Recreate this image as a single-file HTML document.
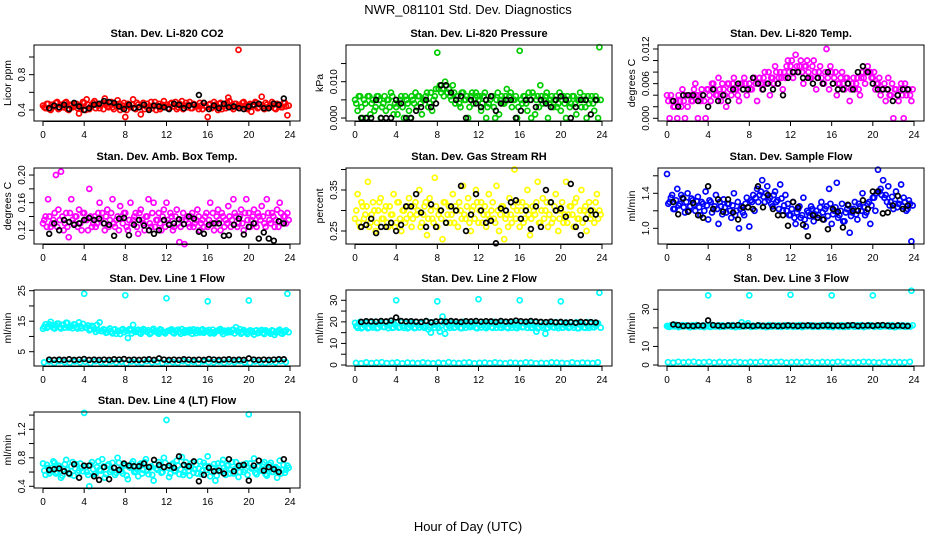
<!DOCTYPE html>
<html><head><meta charset="utf-8">
<style>
html,body{margin:0;padding:0;background:#fff;}
svg{display:block;font-family:"Liberation Sans",Arial,sans-serif;}
</style></head>
<body>
<svg id="chart" width="936" height="540" viewBox="0 0 936 540" xmlns="http://www.w3.org/2000/svg">
<rect width="936" height="540" fill="#fff"/>
<text x="468" y="14" font-size="13" text-anchor="middle">NWR_081101  Std. Dev. Diagnostics</text>
<text x="468" y="531" font-size="13" text-anchor="middle">Hour of Day (UTC)</text>
</svg>
<script>
// ---- data ----
const xTicks = [0,4,8,12,16,20,24];
const colorStep = 0.25;     // hours between colored samples
const color2Start = 0.125;
const blackStart = 0.6, blackStep = 0.485;
const lowStart = 0.1, lowStep = 0.5;

const co2Color = [0.45,0.42,0.47,0.40,0.44,0.48,0.41,0.46,0.43,0.49,0.40,0.45,
0.44,0.47,0.36,0.43,0.48,0.52,0.41,0.45,0.50,0.46,0.42,0.47,
0.53,0.44,0.48,0.43,0.46,0.51,0.40,0.45,0.32,0.47,0.43,0.52,
0.41,0.46,0.35,0.48,0.44,0.42,0.49,0.45,0.40,0.47,0.43,0.50,
0.46,0.42,0.48,0.44,0.41,0.47,0.50,0.45,0.43,0.49,0.42,0.46,
0.44,0.48,0.41,0.45,0.32,0.47,0.43,0.46,0.40,0.48,0.44,0.42,
0.54,0.45,0.41,0.47,1.08,0.44,0.49,0.42,0.46,0.38,0.45,0.48,
0.43,0.55,0.41,0.46,0.44,0.49,0.42,0.47,0.45,0.43,0.48,0.34];
const co2Color2 = [0.43,0.47,0.41,0.46,0.44,0.49,0.42,0.45,0.48,0.41,0.46,0.43,
0.47,0.42,0.45,0.49,0.40,0.46,0.44,0.48,0.42,0.45,0.47,0.41,
0.46,0.43,0.49,0.41,0.45,0.47,0.43,0.48,0.40,0.44,0.46,0.42,
0.48,0.43,0.46,0.41,0.47,0.44,0.42,0.49,0.45,0.41,0.46,0.44,
0.42,0.47,0.44,0.49,0.43,0.45,0.41,0.48,0.46,0.42,0.47,0.44,
0.41,0.45,0.48,0.43,0.46,0.42,0.49,0.44,0.47,0.41,0.45,0.48,
0.50,0.43,0.47,0.44,0.42,0.48,0.45,0.41,0.47,0.44,0.49,0.42,
0.46,0.44,0.48,0.42,0.45,0.47,0.41,0.46,0.43,0.48,0.44,0.45];
const co2Black = [0.42,0.45,0.43,0.46,0.41,0.48,0.44,0.40,0.42,0.46,0.47,0.50,0.49,0.48,0.44,0.41,0.46,0.42,0.43,0.46,0.40,0.45,0.44,0.43,0.41,0.47,0.46,0.42,0.45,0.46,0.57,0.48,0.41,0.45,0.42,0.47,0.43,0.44,0.42,0.41,0.44,0.46,0.47,0.42,0.42,0.47,0.46,0.53];

const presColor = [0.005,0.002,0.006,0.000,0.004,0.006,0.001,0.005,0.003,0.006,0.000,0.004,
0.002,0.005,0.007,0.001,0.003,0.004,0.006,0.000,0.005,0.002,0.006,0.004,
0.003,0.006,0.001,0.005,0.007,0.004,0.002,0.006,0.018,0.009,0.008,0.010,
0.007,0.006,0.009,0.004,0.006,0.003,0.007,0.005,0.000,0.006,0.004,0.007,
0.005,0.002,0.006,0.000,0.004,0.006,0.003,0.005,0.001,0.006,0.004,0.008,
0.006,0.003,0.005,0.000,0.0185,0.004,0.006,0.002,0.005,0.007,0.001,0.006,
0.009,0.004,0.006,0.000,0.005,0.003,0.006,0.004,0.002,0.006,0.000,0.005,
0.004,0.006,0.001,0.005,0.003,0.006,0.000,0.004,0.006,0.002,0.005,0.0195];
const presColor2 = [0.004,0.006,0.003,0.005,0.000,0.006,0.004,0.002,0.006,0.005,0.003,0.006,
0.005,0.003,0.006,0.004,0.001,0.005,0.003,0.006,0.004,0.000,0.005,0.007,
0.006,0.004,0.005,0.006,0.003,0.007,0.005,0.008,0.008,0.007,0.006,0.009,
0.008,0.005,0.007,0.006,0.004,0.007,0.005,0.006,0.003,0.007,0.005,0.006,
0.006,0.004,0.007,0.003,0.005,0.006,0.000,0.007,0.005,0.004,0.006,0.005,
0.007,0.005,0.006,0.003,0.005,0.006,0.004,0.007,0.000,0.006,0.005,0.003,
0.006,0.005,0.007,0.004,0.006,0.005,0.003,0.007,0.005,0.004,0.006,0.003,
0.006,0.004,0.005,0.007,0.005,0.003,0.006,0.005,0.004,0.006,0.000,0.005];
const presBlack = [0.000,0.000,0.000,0.005,0.000,0.000,0.000,0.005,0.004,0.000,0.000,0.002,0.003,0.005,0.003,0.004,0.009,0.009,0.007,0.005,0.006,0.000,0.005,0.004,0.003,0.005,0.006,0.002,0.004,0.005,0.005,0.000,0.002,0.005,0.005,0.003,0.005,0.004,0.003,0.005,0.006,0.005,0.000,0.003,0.005,0.005,0.001,0.005];

const tempColor = [0.004,0.000,0.003,0.002,0.000,0.003,0.005,0.000,0.002,0.004,0.003,0.006,
0.000,0.003,0.004,0.000,0.005,0.003,0.006,0.004,0.007,0.003,0.005,0.002,
0.006,0.004,0.007,0.005,0.003,0.006,0.007,0.004,0.006,0.005,0.007,0.003,
0.007,0.005,0.008,0.006,0.004,0.007,0.009,0.006,0.008,0.005,0.007,0.010,
0.009,0.007,0.011,0.008,0.010,0.006,0.009,0.008,0.007,0.010,0.005,0.008,
0.007,0.006,0.012,0.005,0.008,0.007,0.004,0.006,0.008,0.005,0.007,0.003,
0.006,0.005,0.007,0.004,0.008,0.006,0.009,0.008,0.007,0.005,0.006,0.004,
0.005,0.003,0.007,0.004,0.000,0.005,0.003,0.006,0.000,0.004,0.005,0.003];
const tempColor2 = [0.003,0.004,0.002,0.003,0.004,0.002,0.003,0.004,0.004,0.003,0.005,0.004,
0.004,0.005,0.003,0.005,0.004,0.006,0.005,0.004,0.005,0.006,0.004,0.006,
0.005,0.006,0.005,0.004,0.006,0.005,0.006,0.005,0.005,0.007,0.006,0.006,
0.006,0.007,0.006,0.008,0.007,0.006,0.008,0.007,0.007,0.008,0.009,0.008,
0.010,0.008,0.009,0.009,0.008,0.009,0.010,0.007,0.009,0.008,0.007,0.009,
0.006,0.008,0.007,0.009,0.006,0.008,0.006,0.007,0.006,0.007,0.006,0.005,
0.007,0.006,0.005,0.007,0.007,0.008,0.008,0.007,0.008,0.006,0.007,0.005,
0.006,0.005,0.004,0.006,0.005,0.004,0.005,0.004,0.006,0.005,0.004,0.005];
const tempBlack = [0.003,0.002,0.004,0.004,0.004,0.003,0.004,0.002,0.005,0.003,0.004,0.003,0.005,0.006,0.005,0.005,0.007,0.006,0.005,0.006,0.005,0.006,0.004,0.007,0.008,0.008,0.007,0.007,0.006,0.007,0.006,0.008,0.006,0.005,0.005,0.006,0.005,0.008,0.009,0.008,0.006,0.005,0.005,0.005,0.003,0.004,0.005,0.005];

const ambColor = [0.130,0.140,0.165,0.125,0.135,0.200,0.150,0.205,0.120,0.145,0.110,0.165,
0.130,0.140,0.150,0.120,0.145,0.135,0.180,0.125,0.140,0.130,0.160,0.145,
0.120,0.150,0.135,0.165,0.125,0.140,0.155,0.130,0.145,0.120,0.160,0.135,
0.145,0.115,0.150,0.130,0.140,0.165,0.125,0.160,0.135,0.145,0.120,0.150,
0.160,0.130,0.140,0.125,0.150,0.103,0.135,0.100,0.140,0.125,0.145,0.130,
0.150,0.120,0.135,0.140,0.125,0.160,0.145,0.130,0.150,0.120,0.140,0.135,
0.155,0.125,0.165,0.140,0.130,0.150,0.120,0.165,0.145,0.135,0.150,0.125,
0.140,0.155,0.130,0.165,0.135,0.145,0.125,0.150,0.160,0.130,0.140,0.145];
const ambColor2 = [0.135,0.125,0.140,0.130,0.145,0.125,0.135,0.140,0.130,0.125,0.145,0.135,
0.140,0.125,0.130,0.145,0.135,0.120,0.140,0.130,0.125,0.145,0.135,0.130,
0.140,0.125,0.145,0.130,0.135,0.120,0.140,0.145,0.125,0.135,0.130,0.140,
0.125,0.145,0.135,0.120,0.140,0.130,0.145,0.125,0.135,0.130,0.140,0.125,
0.135,0.145,0.120,0.140,0.130,0.125,0.145,0.135,0.130,0.140,0.125,0.135,
0.140,0.130,0.125,0.145,0.135,0.130,0.120,0.140,0.135,0.145,0.125,0.130,
0.140,0.135,0.145,0.125,0.140,0.130,0.145,0.135,0.125,0.140,0.130,0.145,
0.135,0.140,0.125,0.145,0.130,0.140,0.135,0.125,0.145,0.140,0.130,0.135];
const ambBlack = [0.115,0.130,0.120,0.135,0.132,0.128,0.130,0.135,0.138,0.135,0.137,0.130,0.128,0.112,0.137,0.138,0.113,0.128,0.135,0.127,0.120,0.115,0.120,0.135,0.128,0.130,0.136,0.129,0.140,0.137,0.118,0.115,0.128,0.130,0.130,0.112,0.113,0.128,0.137,0.114,0.125,0.130,0.108,0.117,0.108,0.105,0.133,0.130];

const rhColor = [0.28,0.34,0.26,0.31,0.29,0.37,0.27,0.32,0.25,0.30,0.33,0.28,
0.31,0.26,0.29,0.34,0.27,0.32,0.25,0.30,0.28,0.33,0.26,0.31,
0.29,0.35,0.27,0.31,0.24,0.33,0.28,0.38,0.26,0.30,0.23,0.32,
0.29,0.27,0.34,0.31,0.26,0.30,0.36,0.28,0.33,0.25,0.31,0.35,
0.27,0.32,0.29,0.26,0.34,0.30,0.28,0.36,0.25,0.31,0.23,0.29,
0.33,0.27,0.40,0.30,0.26,0.32,0.28,0.35,0.24,0.31,0.29,0.37,
0.27,0.33,0.30,0.26,0.32,0.28,0.34,0.25,0.30,0.27,0.37,0.29,
0.31,0.26,0.33,0.28,0.35,0.30,0.25,0.32,0.29,0.27,0.34,0.30];
const rhColor2 = [0.30,0.27,0.32,0.28,0.31,0.26,0.29,0.30,0.27,0.32,0.28,0.30,
0.27,0.31,0.29,0.26,0.32,0.28,0.30,0.27,0.31,0.29,0.28,0.32,
0.30,0.26,0.29,0.32,0.28,0.30,0.27,0.31,0.29,0.28,0.32,0.27,
0.31,0.29,0.27,0.30,0.32,0.28,0.29,0.31,0.27,0.30,0.28,0.32,
0.30,0.27,0.31,0.29,0.28,0.32,0.27,0.30,0.29,0.31,0.28,0.26,
0.29,0.31,0.28,0.32,0.30,0.27,0.31,0.29,0.28,0.30,0.32,0.27,
0.30,0.28,0.32,0.29,0.27,0.31,0.30,0.28,0.32,0.29,0.27,0.31,
0.29,0.32,0.28,0.30,0.27,0.31,0.29,0.28,0.30,0.32,0.28,0.29];
const rhBlack = [0.26,0.265,0.28,0.245,0.26,0.26,0.27,0.25,0.265,0.31,0.31,0.34,0.295,0.26,0.315,0.26,0.30,0.27,0.31,0.30,0.36,0.25,0.29,0.34,0.30,0.27,0.275,0.22,0.305,0.30,0.32,0.325,0.28,0.30,0.255,0.31,0.26,0.35,0.32,0.30,0.305,0.285,0.365,0.26,0.24,0.28,0.30,0.29];

const sampColor = [1.62,1.30,1.38,1.22,1.45,1.28,1.35,1.18,1.40,1.25,1.32,1.20,
1.36,1.15,1.28,1.42,1.10,1.30,1.22,1.38,1.05,1.25,1.33,1.18,
1.28,1.12,1.40,1.20,1.00,1.25,1.15,1.35,1.02,1.30,1.20,1.45,
1.38,1.55,1.30,1.48,1.35,1.25,1.42,1.32,1.50,1.20,1.38,1.28,
1.15,1.30,1.05,1.22,1.12,1.35,1.02,1.18,1.25,1.08,1.20,1.15,
1.30,1.10,1.25,1.45,1.05,1.20,1.52,1.15,1.28,1.08,1.22,0.95,
1.18,1.30,1.10,1.25,1.40,1.15,1.28,1.05,1.35,1.20,1.67,1.45,
1.55,1.38,1.48,1.30,1.22,1.42,1.28,1.50,1.35,1.20,1.32,0.85];
const sampColor2 = [1.28,1.35,1.22,1.32,1.26,1.38,1.24,1.30,1.20,1.34,1.27,1.31,
1.24,1.30,1.20,1.26,1.32,1.18,1.25,1.22,1.30,1.16,1.24,1.28,
1.20,1.26,1.15,1.30,1.22,1.18,1.28,1.24,1.32,1.38,1.35,1.30,
1.42,1.36,1.40,1.32,1.28,1.38,1.30,1.22,1.34,1.26,1.20,1.15,
1.22,1.12,1.18,1.25,1.15,1.10,1.20,1.14,1.22,1.16,1.12,1.24,
1.18,1.22,1.14,1.28,1.16,1.24,1.12,1.20,1.08,1.18,1.26,1.14,
1.22,1.16,1.28,1.20,1.24,1.18,1.30,1.26,1.35,1.40,1.42,1.38,
1.35,1.30,1.26,1.36,1.28,1.24,1.32,1.25,1.30,1.22,1.28,1.26];
const sampBlack = [1.30,1.16,1.34,1.19,1.29,1.15,1.12,1.48,1.22,1.33,1.19,1.33,1.18,1.10,1.24,1.24,1.22,1.48,1.24,1.38,1.22,1.15,1.15,1.03,1.30,1.24,1.04,0.91,1.15,1.12,1.10,0.99,1.22,1.19,1.01,1.27,1.20,1.20,1.32,1.22,1.42,1.42,1.17,1.18,1.26,1.37,1.22,1.26];

const l1Color = [12.5,14.0,13.2,14.8,12.8,13.6,14.2,12.6,13.8,14.5,12.9,13.4,
14.0,13.1,14.6,12.7,24.0,13.0,12.0,13.5,12.4,13.8,14.6,11.8,
12.2,11.4,12.6,11.0,12.3,11.8,10.8,12.4,23.5,9.5,12.0,13.8,
11.5,12.2,10.9,12.4,11.7,12.0,11.2,12.5,11.6,10.9,12.1,11.4,
22.5,11.9,12.3,11.0,12.0,11.5,12.4,11.2,11.8,12.2,10.9,11.7,
12.1,11.3,12.3,11.6,21.5,11.0,12.2,11.5,11.9,12.4,10.8,11.7,
12.0,11.4,12.2,13.0,11.6,10.9,12.1,11.3,21.8,11.8,10.6,12.0,
11.2,12.1,10.8,11.7,11.3,12.0,10.5,11.6,12.2,10.9,11.5,24.0];
const l1Color2 = [13.2,12.8,14.0,13.5,12.6,14.2,13.0,13.8,12.9,14.4,13.3,12.7,
13.9,12.6,13.4,14.1,12.9,13.6,12.4,13.1,11.5,12.0,11.8,12.3,
11.2,12.0,11.6,12.2,10.9,11.8,12.1,11.4,11.9,12.3,11.0,11.7,
12.0,11.3,11.8,12.2,11.5,10.8,12.1,11.7,11.2,12.3,11.6,11.0,
11.8,12.1,11.3,11.9,12.2,10.9,11.6,12.0,11.4,11.8,12.3,11.1,
11.7,12.0,11.2,11.9,12.1,11.4,11.0,11.8,12.2,11.5,11.9,11.3,
11.6,12.1,11.0,11.8,12.4,11.3,11.7,10.8,12.0,11.4,11.9,11.1,
11.7,11.2,12.0,11.5,10.9,11.8,11.3,11.9,11.1,11.6,12.0,11.4];
const l1Low = [1.5,1.8,1.3,1.9,1.6,1.4,1.8,1.5,1.7,1.3,1.9,1.6,1.4,1.8,1.5,1.7,1.2,1.8,1.6,1.4,1.9,1.5,1.7,1.3,1.8,1.6,1.4,1.9,1.5,1.7,1.3,1.8,1.6,1.5,1.8,1.4,1.7,1.6,1.9,1.5,1.3,1.8,1.6,1.4,1.7,1.5,1.9,1.6];
const l1Black = [2.4,2.3,2.4,2.3,2.5,2.3,2.4,2.6,2.3,2.4,2.3,2.4,2.3,2.5,2.4,2.6,2.3,2.4,2.3,2.4,2.5,2.3,2.8,2.4,2.3,2.4,2.3,2.5,2.4,2.3,2.4,2.3,2.6,2.4,2.3,2.4,2.5,2.3,2.4,2.3,2.8,2.4,2.3,2.4,2.3,2.4,2.5,2.5];

const l2Color = [19.5,17.2,20.0,17.5,19.8,17.0,19.6,17.4,20.1,17.3,19.7,17.6,
19.9,17.1,19.5,17.4,30.0,17.3,19.8,17.2,20.0,17.5,19.6,17.1,
19.8,17.4,19.5,17.2,20.1,17.6,19.7,17.3,29.5,15.5,22.5,14.5,
19.6,17.2,19.9,17.5,19.4,17.1,20.0,17.3,19.7,17.6,19.5,17.2,
30.5,17.4,19.8,17.1,19.6,17.5,20.0,17.3,19.7,17.2,19.9,17.4,
19.5,17.3,19.8,17.1,30.0,17.5,19.6,17.2,19.9,17.4,19.7,17.0,
19.8,17.3,14.5,17.2,19.6,17.5,19.9,17.1,29.5,17.4,19.7,17.2,
19.5,17.3,19.8,17.0,19.6,17.4,19.9,17.2,19.7,17.5,19.4,33.5];
const l2Color2 = [18.0,19.2,17.0,18.6,19.5,17.4,18.2,19.0,17.1,18.8,19.4,17.6,
18.3,19.1,17.2,18.7,19.6,17.5,18.1,19.3,17.0,18.5,19.0,17.3,
18.4,19.2,17.6,18.0,16.5,15.0,18.6,19.1,17.2,18.3,19.5,17.4,
18.1,19.0,17.3,18.7,19.4,17.1,18.5,19.2,17.6,18.2,19.6,17.0,
18.4,19.1,17.5,18.0,19.3,17.2,18.6,19.0,17.4,18.3,19.5,17.1,
18.5,19.2,17.3,18.1,19.4,17.6,18.7,19.0,17.2,18.4,15.5,17.5,
18.2,19.3,17.1,18.6,19.1,17.4,18.0,19.5,17.3,18.5,19.0,17.6,
18.3,19.2,17.0,18.7,19.4,17.2,18.1,19.1,17.5,18.4,19.3,17.3];
const l2Low = [1.0,0.8,1.2,0.9,1.1,1.3,0.9,1.0,1.2,0.8,1.1,1.0,0.9,1.2,1.0,0.8,1.1,0.9,1.3,1.0,0.9,1.1,1.2,0.8,1.0,1.1,0.9,1.2,1.0,0.8,1.1,1.0,0.9,1.2,1.1,0.8,1.0,0.9,1.2,1.1,1.0,0.8,1.2,0.9,1.1,1.0,0.9,1.2];
const l2Black = [20.0,20.3,20.2,20.1,20.4,20.2,20.6,22.0,20.4,20.2,20.3,20.1,20.0,20.4,19.8,20.2,20.3,20.1,20.4,20.2,20.0,20.3,20.2,20.4,20.1,20.3,20.2,20.0,20.4,20.1,20.2,20.6,20.3,20.1,20.4,20.2,20.0,19.9,20.1,19.8,20.0,19.7,19.9,19.6,20.0,19.8,19.9,19.7];

const l3Color = [21.0,20.5,21.4,20.8,21.2,20.6,21.5,20.9,21.1,20.4,21.3,20.7,
21.0,20.6,21.4,20.9,37.5,20.5,21.2,20.8,21.3,20.6,21.0,20.9,
21.4,20.7,21.1,20.5,21.3,23.0,20.8,21.2,37.5,20.6,21.0,20.9,
21.3,20.7,21.1,20.5,21.4,20.8,21.2,20.6,21.0,20.9,21.3,20.7,
37.8,20.5,21.2,20.8,21.4,20.6,21.1,20.9,21.3,20.7,21.0,20.5,
21.2,20.8,21.4,20.6,37.5,20.9,21.1,20.7,21.3,20.5,21.2,20.8,
21.0,20.6,21.4,20.9,21.1,20.7,21.3,21.5,37.5,20.8,21.2,20.6,
21.0,20.9,21.3,20.7,21.1,20.5,21.4,20.8,21.2,20.6,21.0,40.0];
const l3Color2 = [20.6,21.3,20.9,21.6,20.4,21.1,20.8,21.4,20.5,21.2,20.7,21.5,
20.9,21.0,20.4,21.3,20.6,21.5,20.8,21.1,20.5,21.4,20.7,21.2,
20.9,21.5,20.4,21.0,20.6,21.3,20.8,22.5,20.5,21.2,20.7,21.4,
20.9,21.1,20.4,21.5,20.6,21.0,20.8,21.3,20.5,21.2,20.7,21.4,
20.9,21.1,20.6,21.5,20.4,21.0,20.8,21.3,20.5,21.2,20.7,21.4,
20.9,21.1,20.6,21.5,20.4,21.0,20.8,21.3,20.5,21.2,20.7,21.4,
20.9,21.1,20.6,21.5,20.4,21.0,20.8,21.3,20.5,21.2,20.7,21.4,
20.9,21.1,20.6,21.5,20.4,21.0,20.8,21.3,20.5,21.2,20.7,21.4];
const l3Low = [1.5,1.3,1.7,1.4,1.6,1.8,1.4,1.5,1.7,1.3,1.6,1.5,1.4,1.7,1.5,1.3,1.6,1.4,1.8,1.5,1.4,1.6,1.7,1.3,1.5,1.6,1.4,1.7,1.5,1.3,1.6,1.5,1.4,1.7,1.6,1.3,1.5,1.4,1.7,1.6,1.5,1.3,1.7,1.4,1.6,1.5,1.4,1.7];
const l3Black = [21.8,21.5,21.0,21.2,21.0,21.3,21.2,24.0,21.5,21.2,21.0,21.3,21.2,21.5,21.0,21.2,21.0,21.3,21.1,21.0,21.2,21.0,21.1,21.3,21.2,21.0,21.2,21.3,21.1,21.0,21.2,21.3,21.1,21.2,21.0,21.3,21.5,21.0,21.2,21.3,21.1,21.4,21.5,21.2,21.0,21.3,21.1,21.0];

const l4Color = [0.72,0.56,0.66,0.61,0.75,0.58,0.69,0.52,0.64,0.77,0.59,0.68,
0.55,0.71,0.62,0.66,1.43,0.60,0.40,0.74,0.57,0.67,0.63,0.78,
0.52,0.69,0.60,0.73,0.56,0.80,0.64,0.58,0.70,0.50,0.66,0.75,
0.61,0.54,0.72,0.63,0.78,0.57,0.68,0.48,0.65,0.74,0.59,0.80,
1.33,0.53,0.70,0.62,0.76,0.57,0.81,0.60,0.67,0.55,0.73,0.64,
0.58,0.75,0.62,0.69,0.82,0.54,0.66,0.48,0.72,0.61,0.77,0.56,
0.70,0.63,0.58,0.74,0.53,0.67,0.60,0.72,1.41,0.65,0.79,0.57,
0.68,0.62,0.74,0.55,0.70,0.60,0.66,0.52,0.76,0.63,0.59,0.69];
const l4Color2 = [0.62,0.70,0.58,0.66,0.73,0.60,0.68,0.55,0.71,0.63,0.57,0.74,
0.65,0.59,0.72,0.61,0.67,0.56,0.70,0.64,0.58,0.75,0.62,0.68,
0.57,0.71,0.63,0.66,0.59,0.73,0.61,0.69,0.55,0.67,0.72,0.60,
0.64,0.70,0.58,0.74,0.62,0.66,0.56,0.71,0.63,0.68,0.60,0.73,
0.66,0.58,0.72,0.61,0.69,0.64,0.56,0.74,0.62,0.67,0.59,0.70,
0.65,0.57,0.73,0.63,0.68,0.60,0.71,0.55,0.66,0.72,0.61,0.69,
0.58,0.74,0.64,0.67,0.60,0.70,0.63,0.56,0.72,0.66,0.59,0.68,
0.62,0.71,0.57,0.65,0.73,0.60,0.67,0.64,0.58,0.70,0.63,0.66];
const l4Black = [0.63,0.64,0.65,0.61,0.58,0.71,0.52,0.69,0.69,0.54,0.49,0.67,0.50,0.66,0.63,0.72,0.69,0.68,0.68,0.72,0.67,0.77,0.70,0.67,0.69,0.66,0.82,0.70,0.68,0.75,0.47,0.56,0.66,0.61,0.62,0.58,0.78,0.61,0.69,0.70,0.48,0.69,0.76,0.62,0.67,0.64,0.60,0.78];

// ---- layout ----
const SVGNS = "http://www.w3.org/2000/svg";
const svg = document.getElementById('chart');
const rowTop = [45,168,290,412];
const boxH = 76, boxW = 266;
function mk(tag, attrs, parent){
  const e = document.createElementNS(SVGNS, tag);
  for (const k in attrs) e.setAttribute(k, attrs[k]);
  parent.appendChild(e); return e;
}
const panels = [
 {name:'co2', title:'Stan. Dev. Li-820 CO2', ylab:'Licor ppm', col:'#ff0000', r:0,c:0, dom:[0.275,1.136], ticks:[0.4,0.6,0.8,1.0], labels:['0.4','','0.8',''], color:co2Color, color2:co2Color2, black:co2Black},
 {name:'pressure', title:'Stan. Dev. Li-820 Pressure', ylab:'kPa', col:'#00cd00', r:0,c:1, dom:[-0.00082,0.0201], ticks:[0,0.005,0.010,0.015], labels:['0.000','','0.010',''], color:presColor, color2:presColor2, black:presBlack},
 {name:'temp', title:'Stan. Dev. Li-820 Temp.', ylab:'degrees C', col:'#ff00ff', r:0,c:2, dom:[-0.00047,0.01269], ticks:[0,0.002,0.004,0.006,0.008,0.010,0.012], labels:['0.000','','','0.006','','','0.012'], color:tempColor, color2:tempColor2, black:tempBlack},
 {name:'amb-box-temp', title:'Stan. Dev. Amb. Box Temp.', ylab:'degrees C', col:'#ff00ff', r:1,c:0, dom:[0.1002,0.2102], ticks:[0.12,0.14,0.16,0.18,0.20], labels:['0.12','','0.16','','0.20'], color:ambColor, color2:ambColor2, black:ambBlack},
 {name:'gas-rh', title:'Stan. Dev. Gas Stream RH', ylab:'percent', col:'#ffff00', r:1,c:1, dom:[0.2183,0.4037], ticks:[0.25,0.30,0.35,0.40], labels:['0.25','','0.35',''], color:rhColor, color2:rhColor2, black:rhBlack},
 {name:'sample-flow', title:'Stan. Dev. Sample Flow', ylab:'ml/min', col:'#0000ff', r:1,c:2, dom:[0.8206,1.689], ticks:[1.0,1.2,1.4,1.6], labels:['1.0','','1.4',''], color:sampColor, color2:sampColor2, black:sampBlack},
 {name:'line1-flow', title:'Stan. Dev. Line 1 Flow', ylab:'ml/min', col:'#00ffff', r:2,c:0, dom:[0.311,25.23], ticks:[5,10,15,20,25], labels:['5','','15','','25'], color:l1Color, color2:l1Color2, low:l1Low, black:l1Black},
 {name:'line2-flow', title:'Stan. Dev. Line 2 Flow', ylab:'ml/min', col:'#00ffff', r:2,c:1, dom:[-0.46,34.77], ticks:[0,5,10,15,20,25,30], labels:['0','','10','','20','','30'], color:l2Color, color2:l2Color2, low:l2Low, black:l2Black},
 {name:'line3-flow', title:'Stan. Dev. Line 3 Flow', ylab:'ml/min', col:'#00ffff', r:2,c:2, dom:[-0.54,40.39], ticks:[0,10,20,30], labels:['0','10','','30'], color:l3Color, color2:l3Color2, low:l3Low, black:l3Black},
 {name:'line4-flow', title:'Stan. Dev. Line 4 (LT) Flow', ylab:'ml/min', col:'#00ffff', r:3,c:0, dom:[0.376,1.443], ticks:[0.4,0.6,0.8,1.0,1.2,1.4], labels:['0.4','','0.8','','1.2',''], color:l4Color, color2:l4Color2, black:l4Black}
];

panels.forEach(p => {
  const L = 34 + 312*p.c, T = rowTop[p.r], B = T + boxH;
  const xs = h => L + 9 + h*(247/24);
  const ys = v => B - (v - p.dom[0])/(p.dom[1]-p.dom[0])*boxH;
  const g = mk('g', {}, svg);
  
  
  const t = mk('text', {x:L+boxW/2, y:T-8, 'font-size':11, 'font-weight':'bold', 'text-anchor':'middle'}, g);
  t.textContent = p.title;
  
  
  const yl = mk('text', {x:0, y:0, 'font-size':10.5, 'text-anchor':'middle', transform:`translate(${L-23},${T+boxH/2}) rotate(-90)`}, g);
  yl.textContent = p.ylab;
  
  
  const pts = mk('g', {fill:'none', 'stroke-width':1.7}, g);
  
  
  p.color.forEach((v,i) => {
    const c = mk('circle', {cx:xs(i*colorStep).toFixed(1), cy:ys(v).toFixed(1), r:2.5, stroke:p.col}, pts);
    
    
  });
  p.color2.forEach((v,i) => {
    const c = mk('circle', {cx:xs(color2Start+i*colorStep).toFixed(1), cy:ys(v).toFixed(1), r:2.5, stroke:p.col}, pts);
    
    
  });
  if (p.low) p.low.forEach((v,i) => {
    const c = mk('circle', {cx:xs(lowStart+i*lowStep).toFixed(1), cy:ys(v).toFixed(1), r:2.5, stroke:p.col}, pts);
    
    
  });
  p.black.forEach((v,i) => {
    const c = mk('circle', {cx:xs(blackStart+i*blackStep).toFixed(1), cy:ys(v).toFixed(1), r:2.4, stroke:'#000'}, pts);
    
    
  });
  const bx = mk('rect', {x:L, y:T, width:boxW, height:boxH, fill:'none', stroke:'#000', 'stroke-width':1}, g);
  
  
  const xa = mk('g', {}, g);
  
  
  mk('line', {x1:xs(0), x2:xs(24), y1:B+0.5, y2:B+0.5, stroke:'#000'}, xa);
  xTicks.forEach(h => {
    mk('line', {x1:xs(h), x2:xs(h), y1:B, y2:B+5, stroke:'#000'}, xa);
    const tl = mk('text', {x:xs(h), y:B+17, 'font-size':10, 'text-anchor':'middle'}, xa);
    tl.textContent = h;
    
    
  });
  const ya = mk('g', {}, g);
  
  
  p.ticks.forEach((v,i) => {
    const y = ys(v);
    mk('line', {x1:L-5, x2:L, y1:y, y2:y, stroke:'#000'}, ya);
    if (p.labels[i]) {
      const tl = mk('text', {x:0, y:0, 'font-size':10, 'text-anchor':'middle', transform:`translate(${L-9},${y}) rotate(-90)`}, ya);
      tl.textContent = p.labels[i];
      
      
    }
  });
});
</script>
</body></html>
